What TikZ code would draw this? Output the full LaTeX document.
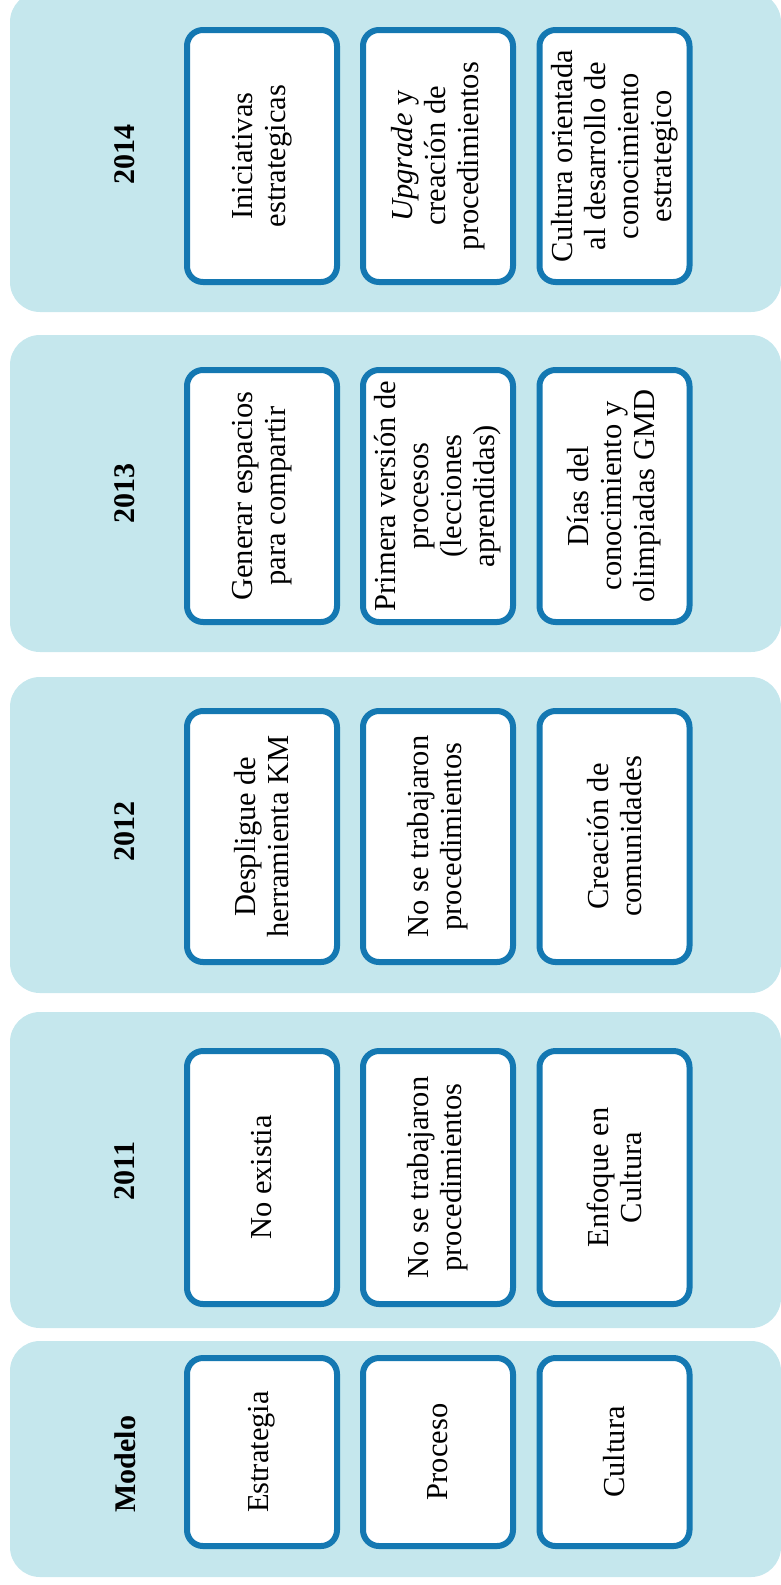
\documentclass[tikz,border=0pt]{standalone}
\usepackage{fontspec}
\setmainfont{Liberation Serif}
\definecolor{panelblue}{RGB}{197,231,237}
\definecolor{edgeblue}{RGB}{20,120,178}

\begin{document}
\begin{tikzpicture}[x=1pt,y=-1pt,
  panel/.style={fill=panelblue, rounded corners=30pt},
  cell/.style={draw=edgeblue, line width=6pt, fill=white, rounded corners=16pt,
    rotate=90, align=center, minimum height=150pt, inner sep=2pt,
    font=\fontsize{30.5}{33}\selectfont},
  year/.style={rotate=90, font=\fontsize{30}{33}\selectfont\bfseries}]
\useasboundingbox (0,0) rectangle (780,1585);

% year bands
\fill[panel] (10,-8) rectangle (781,312);
\fill[panel] (10,335) rectangle (781,652);
\fill[panel] (10,677) rectangle (781,993);
\fill[panel] (10,1012) rectangle (781,1328);
\fill[panel] (10,1341) rectangle (781,1577);

% 2014
\node[year] (y14) at (125,154) {2014};
\node[cell, minimum width=252pt] (s14) at (262,156) {Iniciativas\\estrategicas};
\node[cell, minimum width=252pt] (p14) at (438,156) {\textit{Upgrade} y\\creación de\\procedimientos};
\node[cell, minimum width=252pt] (c14) at (614.5,156) {Cultura orientada\\al desarrollo de\\conocimiento\\estrategico};

% 2013
\node[year] (y13) at (125,493) {2013};
\node[cell, minimum width=252pt] (s13) at (262,496) {Generar espacios\\para compartir};
\node[cell, minimum width=252pt] (p13) at (438,496) {Primera versión de\\procesos\\(lecciones\\aprendidas)};
\node[cell, minimum width=252pt] (c13) at (614.5,496) {Días del\\conocimiento y\\olimpiadas GMD};

% 2012
\node[year] (y12) at (125,831) {2012};
\node[cell, minimum width=251pt] (s12) at (262,836.5) {Despligue de\\herramienta KM};
\node[cell, minimum width=251pt] (p12) at (438,836.5) {No se trabajaron\\procedimientos};
\node[cell, minimum width=251pt] (c12) at (614.5,836.5) {Creación de\\comunidades};

% 2011
\node[year] (y11) at (125,1171) {2011};
\node[cell, minimum width=253pt] (s11) at (262,1177.5) {No existia};
\node[cell, minimum width=253pt] (p11) at (438,1177.5) {No se trabajaron\\procedimientos};
\node[cell, minimum width=253pt] (c11) at (614.5,1177.5) {Enfoque en\\Cultura};

% model
\node[year] (ym) at (125,1464) {Modelo};
\node[cell, minimum width=188pt] (sm) at (262,1452) {Estrategia};
\node[cell, minimum width=188pt] (pm) at (438,1452) {Proceso};
\node[cell, minimum width=188pt] (cm) at (614.5,1452) {Cultura};
\end{tikzpicture}
\end{document}
